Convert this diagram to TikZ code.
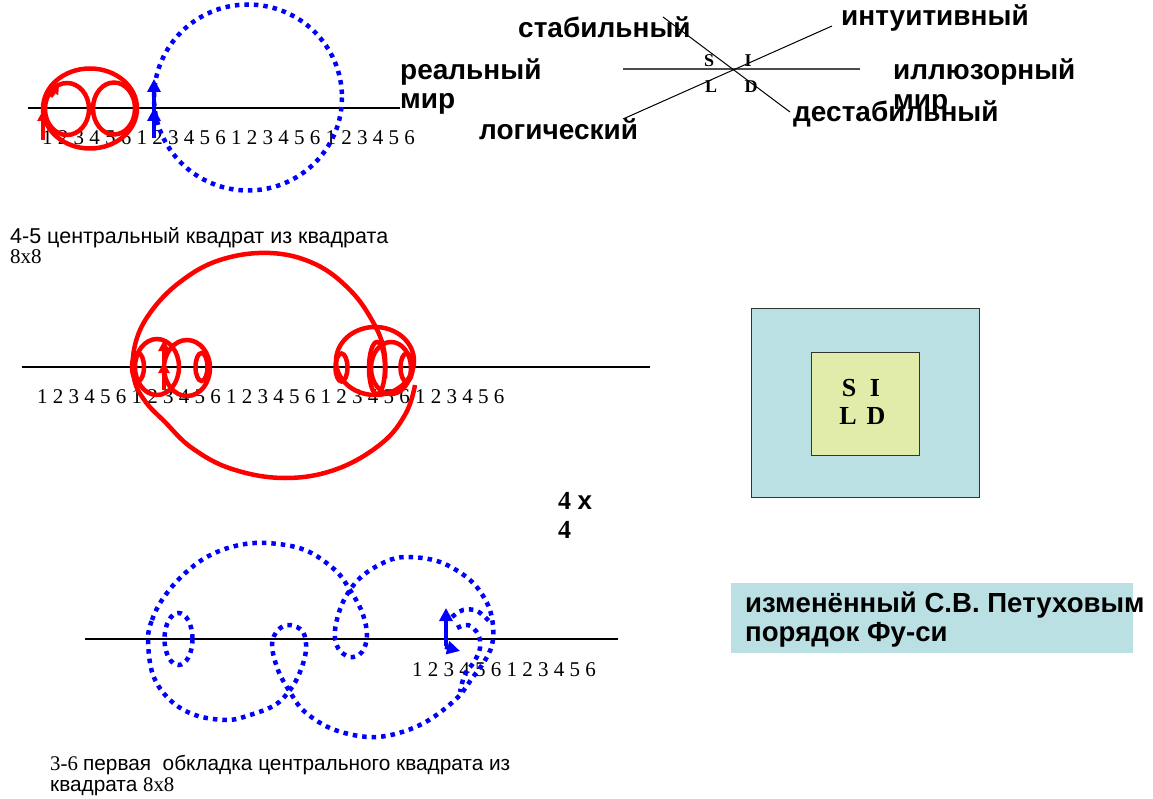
\documentclass[tikz,border=0pt]{standalone}
\usepackage{fontspec}
\setmainfont{Liberation Serif}
\newfontfamily\arial{Liberation Sans}
\usetikzlibrary{arrows.meta}
\definecolor{lblue}{HTML}{BBE0E3}
\definecolor{lyel}{HTML}{E1ECAA}
\begin{document}
\begin{tikzpicture}[x=1pt,y=-1pt,
  redline/.style={draw=red,line width=4.5pt},
  bluedot/.style={draw=blue,line width=4.5pt,dash pattern=on 4.5pt off 5pt},
  axisline/.style={draw=black,line width=1.2pt},
  thinline/.style={draw=black,line width=1pt},
  biglab/.style={font=\arial\bfseries\fontsize{28}{30}\selectfont,inner sep=0pt,anchor=base west},
  nums/.style={font=\fontsize{21}{24}\selectfont,inner sep=0pt,anchor=base west},
  smalltxt/.style={font=\arial\fontsize{21.5}{24}\selectfont,inner sep=0pt,anchor=base west},
  letter/.style={font=\bfseries\fontsize{18}{20}\selectfont,inner sep=0pt,anchor=base},
  sqletter/.style={font=\bfseries\fontsize{26}{28}\selectfont,inner sep=0pt,anchor=base},
  redarrow/.style={draw=red,line width=4pt,-{Triangle[length=11pt,width=11pt]}},
  bluearrow/.style={draw=blue,line width=4pt,-{Triangle[length=13pt,width=13pt]}}]
\useasboundingbox (0,0) rectangle (1153,799);

% ---------------- top-left ----------------
\coordinate (t1) at (28,108); \coordinate (t2) at (400,108);
\draw[axisline] (t1) -- (t2);
\node[nums] (n1) at (42,145) {1 2 3 4 5 6 1 2 3 4 5 6 1 2 3 4 5 6 1 2 3 4 5 6};
\draw[redline] (90,108.5) ellipse [x radius=47, y radius=40];
\draw[redline] (67,109) ellipse [x radius=22, y radius=26];
\draw[redline] (114,108.5) ellipse [x radius=21, y radius=26];
\coordinate (ra1) at (43,140); \coordinate (ra2) at (43,110);
\draw[redarrow] (ra1) -- (ra2);
\coordinate (ra3) at (51,97); \coordinate (ra4) at (59,86);
\draw[draw=red,line width=3pt,-{Triangle[length=8pt,width=9pt]}] (ra3) -- (ra4);
\draw[bluedot] (248,97.5) ellipse [x radius=94, y radius=93];
\coordinate (ba1) at (154,138); \coordinate (ba2) at (154,108);
\coordinate (ba3) at (154,112); \coordinate (ba4) at (154,79);
\draw[bluearrow] (ba1) -- (ba2);
\draw[bluearrow] (ba3) -- (ba4);
\node[biglab] (real1) at (400,80) {реальный};
\node[biglab] (real2) at (400,109) {мир};

% ---------------- cross ----------------
\coordinate (h1) at (623,69); \coordinate (h2) at (860,69);
\coordinate (d1) at (663,17); \coordinate (d2) at (790,112);
\coordinate (e1) at (623,119); \coordinate (e2) at (832,26);
\draw[draw=black!70,line width=1.6pt] (h1) -- (h2);
\draw[thinline] (d1) -- (d2);
\draw[thinline] (e1) -- (e2);
\node[letter] (cS) at (709,67) {S};
\node[letter] (cI) at (748,67) {I};
\node[letter] (cL) at (711,93) {L};
\node[letter] (cD) at (751,93) {D};
\node[biglab] (stab) at (518,38) {стабильный};
\node[biglab] (intu) at (841,26) {интуитивный};
\node[biglab] (ill1) at (893,80) {иллюзорный};
\node[biglab] (ill2) at (893,110) {мир};
\node[biglab] (dest) at (793,122) {дестабильный};
\node[biglab] (logi) at (479,140) {логический};

% ---------------- middle ----------------
\node[smalltxt] (txt1) at (10,244) {4-5 центральный квадрат из квадрата};
\node[nums,font=\fontsize{21}{24}\selectfont] (txt2) at (10,264) {8x8};
\coordinate (m1) at (22,367); \coordinate (m2) at (650,367);
\draw[axisline] (m1) -- (m2);
\node[nums] (n2) at (37,403) {1 2 3 4 5 6 1 2 3 4 5 6 1 2 3 4 5 6 1 2 3 4 5 6 1 2 3 4 5 6};
% left cluster
\draw[redline] (138,367) ellipse [x radius=6, y radius=14];
\draw[redline] (157,367) ellipse [x radius=22, y radius=28];
\draw[redline] (187,368) ellipse [x radius=23, y radius=28];
\draw[redline] (201.5,367) ellipse [x radius=6, y radius=14];
% right cluster
\draw[redline] (341.5,367.5) ellipse [x radius=6, y radius=14];
\draw[redline] (375,361) ellipse [x radius=39, y radius=34];
\draw[redline] (377,368) ellipse [x radius=8, y radius=26];
\draw[redline] (391,368) ellipse [x radius=20, y radius=26];
\draw[redline] (406.5,367.5) ellipse [x radius=6, y radius=14];
% big loop
\draw[redline] plot[smooth, tension=0.65] coordinates {(385,378) (384,350) (373,322) (350,290) (315,264) (270,253) (220,260) (180,282) (150,313) (135,345) (134,378) (145,401) (165,422) (192,448) (232,469) (285,478) (337,469) (382,443) (406,413) (415,385)};
\coordinate (mr1) at (164,390); \coordinate (mr2) at (164,362);
\coordinate (mr3) at (164,368); \coordinate (mr4) at (164,340);
\draw[redarrow] (mr1) -- (mr2);
\draw[redarrow] (mr3) -- (mr4);

% ---------------- square ----------------
\node[draw=black!80,line width=1pt,fill=lblue,minimum width=228pt,minimum height=188pt,inner sep=0pt] (outer) at (865,403) {};
\node[draw=black!80,line width=1pt,fill=lyel,minimum width=108pt,minimum height=103pt,inner sep=0pt] (inner) at (865,403.5) {};
\node[sqletter] (qS) at (849,396) {S};
\node[sqletter] (qI) at (875,396) {I};
\node[sqletter] (qL) at (848,424) {L};
\node[sqletter] (qD) at (876,424) {D};

\node[font=\bfseries\fontsize{26}{28}\selectfont,inner sep=0pt,anchor=base west] (fx1) at (558,509) {4 {\arial x}};
\node[font=\bfseries\fontsize{26}{28}\selectfont,inner sep=0pt,anchor=base west] (fx2) at (558,538) {4};

% ---------------- label box ----------------
\node[fill=lblue,minimum width=402pt,minimum height=70pt,inner sep=0pt] (lbox) at (932,618) {};
\node[biglab,font=\arial\bfseries\fontsize{27.6}{30}\selectfont] (lb1) at (745,612) {изменённый С.В. Петуховым};
\node[biglab,font=\arial\bfseries\fontsize{27.6}{30}\selectfont] (lb2) at (745,641) {порядок Фу-си};

% ---------------- bottom ----------------
\coordinate (b1) at (85,639); \coordinate (b2) at (618,639);
\draw[axisline] (b1) -- (b2);
\node[nums] (n3) at (412,676) {1 2 3 4 5 6 1 2 3 4 5 6};
\draw[bluedot] (178.5,639) ellipse [x radius=14, y radius=26];
\draw[bluedot] plot[smooth cycle, tension=0.6] coordinates {(148,640) (152,620) (162,600) (180,578) (205,558) (235,546) (267,543) (305,550) (335,570) (350,590) (362,612) (367,635) (362,652) (350,657) (338,648) (335,630) (343,602) (360,578) (385,562) (407,557) (440,562) (470,580) (487,603) (493,625) (492,645) (484,662) (473,677) (455,700) (420,725) (377,737) (335,730) (305,712) (290,692) (278,670) (272,645) (278,630) (290,625) (303,632) (306,650) (300,672) (290,690) (275,705) (250,715) (227,720) (195,715) (170,700) (153,675)};
\draw[bluedot] plot[smooth, tension=0.6] coordinates {(452,617) (463,610) (477,611) (490,622)};
\draw[bluedot] plot[smooth, tension=0.6] coordinates {(457,628) (468,625) (478,634) (480,648) (474,662) (465,674) (460,692)};
\coordinate (bb1) at (446,646); \coordinate (bb2) at (446,608);
\coordinate (bb3) at (445,647); \coordinate (bb4) at (460,651);
\draw[bluearrow] (bb1) -- (bb2);
\draw[bluearrow] (bb3) -- (bb4);

\node[nums,font=\fontsize{20.8}{24}\selectfont] (txt3) at (50,770) {3-6 {\arial первая\ \ обкладка центрального квадрата из}};
\node[smalltxt,font=\arial\fontsize{20.8}{24}\selectfont] (txt4) at (50,791) {квадрата {\rmfamily 8x8}};
\end{tikzpicture}
\end{document}
